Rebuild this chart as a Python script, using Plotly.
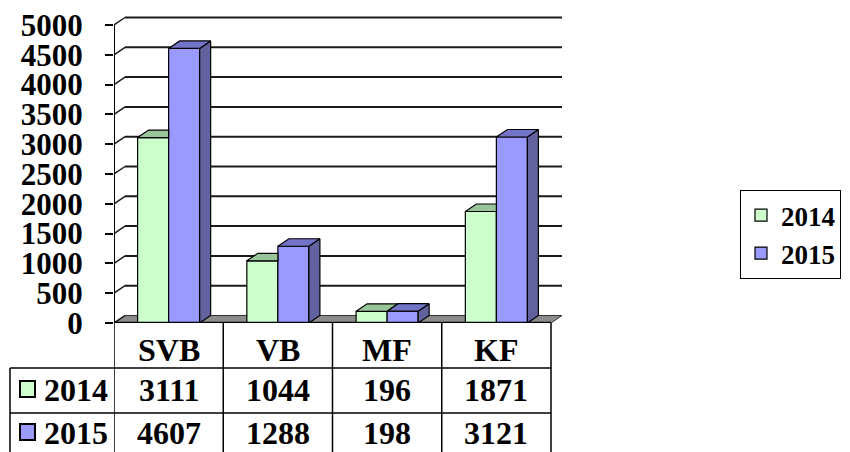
import plotly.graph_objects as go

# ---------------- data ----------------
categories = ["SVB", "VB", "MF", "KF"]
series_names = ["2014", "2015"]
values_2014 = [3111, 1044, 196, 1871]
values_2015 = [4607, 1288, 198, 3121]
y_tick_values = [0, 500, 1000, 1500, 2000, 2500, 3000, 3500, 4000, 4500, 5000]

# ---------------- styles ----------------
FONT = "Liberation Serif"
front_colors = ["#CCFFCC", "#9999FF"]
top_colors = ["#99C699", "#7373C7"]
side_colors = ["#62629E", "#62629E"]
floor_color = "#8C8C8C"

OFF = 8                      # page body margin
W, H = 850 - OFF, 452 - OFF
L, R, T, B = 114 - OFF, 284, 15 - OFF, 129
PW, PH = W - L - R, H - T - B
n = len(categories)
x_min, x_max = -0.5, -0.5 + PW / 109.25
y_max = PH / 298 * 5000
units_per_px_y = y_max / PH
dx = 11 / 109.25          # depth offset in category units
dy = 7.5 * units_per_px_y  # depth offset in value units
bar_w = (1 - 0.432) / 2


def xp(px):  # page pixel -> paper x
    return (px - OFF - L) / PW


def yp(py):  # page pixel -> paper y
    return (T + PH - (py - OFF)) / PH


fig = go.Figure()

series = [values_2014, values_2015]
for s, vals in enumerate(series):
    fig.add_trace(go.Bar(
        x=list(range(n)), y=vals, name=series_names[s],
        marker=dict(color=front_colors[s], line=dict(color="black", width=1.2)),
        hoverinfo="skip",
    ))

# 3D faces (tops and sides) computed from values
for s, vals in enumerate(series):
    tx, ty, sx, sy = [], [], [], []
    for i, v in enumerate(vals):
        x0 = i - bar_w + s * bar_w
        x1 = x0 + bar_w
        if s == 0 and series[1][i] >= v + dy:
            tx += [x0, x1, x1, x0 + dx, x0, None]
            ty += [v, v, v + dy, v + dy, v, None]
        else:
            tx += [x0, x1, x1 + dx, x0 + dx, x0, None]
            ty += [v, v, v + dy, v + dy, v, None]
        if s == 1:
            sx += [x1, x1, x1 + dx, x1 + dx, x1, None]
            sy += [0, v, v + dy, dy, 0, None]
    if sx:
        fig.add_trace(go.Scatter(x=sx, y=sy, mode="lines", fill="toself",
                                 fillcolor=side_colors[s],
                                 line=dict(color="black", width=1.2),
                                 showlegend=False, hoverinfo="skip"))
    fig.add_trace(go.Scatter(x=tx, y=ty, mode="lines", fill="toself",
                             fillcolor=top_colors[s],
                             line=dict(color="black", width=1.2),
                             showlegend=False, hoverinfo="skip"))

shapes = []
# floor
shapes.append(dict(type="path", xref="x", yref="y", layer="below",
                   path=f"M{x_min},0 L{n - 0.5},0 L{n - 0.5 + dx},{dy} L{x_min + dx},{dy} Z",
                   fillcolor=floor_color, line=dict(color="#333", width=1)))
# back wall gridlines and diagonal ticks
for v in y_tick_values:
    if v > 0:
        shapes.append(dict(type="line", xref="x", yref="y", layer="below",
                           x0=x_min + dx, x1=n - 0.5 + dx, y0=v + dy, y1=v + dy,
                           line=dict(color="#1a1a1a", width=2)))
    shapes.append(dict(type="line", xref="x", yref="y", layer="below",
                       x0=x_min, x1=x_min + dx, y0=v, y1=v + dy,
                       line=dict(color="#1a1a1a", width=1.5)))
# front value axis
shapes.append(dict(type="line", xref="x", yref="y", x0=x_min, x1=x_min, y0=0, y1=5000,
                   line=dict(color="black", width=2)))
# front category axis / table top
shapes.append(dict(type="line", xref="x", yref="y", x0=x_min, x1=n - 0.5, y0=0, y1=0,
                   line=dict(color="black", width=2.5)))

# data table grid
for k in range(n + 1):
    shapes.append(dict(type="line", xref="x", yref="paper", x0=k - 0.5, x1=k - 0.5,
                       y0=yp(323), y1=yp(460), line=dict(color="black", width=1.5)))
shapes.append(dict(type="line", xref="paper", yref="paper", x0=xp(10), x1=xp(10),
                   y0=yp(368), y1=yp(460), line=dict(color="black", width=1.5)))
for row_y in [368, 413]:
    shapes.append(dict(type="line", xref="paper", yref="paper", x0=xp(10), x1=xp(551),
                       y0=yp(row_y), y1=yp(row_y), line=dict(color="black", width=1.5)))

annotations = []
big = dict(family=FONT, size=32, color="black", weight="bold")
for i, c in enumerate(categories):
    annotations.append(dict(x=i, y=yp(350), xref="x", yref="paper", text=c,
                            showarrow=False, font=big, xanchor="center", yanchor="middle"))
row_centers = [390, 433]
for s, vals in enumerate(series):
    for i, v in enumerate(vals):
        annotations.append(dict(x=i, y=yp(row_centers[s]), xref="x", yref="paper", text=str(v),
                                showarrow=False, font=big, xanchor="center", yanchor="middle"))
    shapes.append(dict(type="rect", xref="paper", yref="paper",
                       x0=xp(20), x1=xp(35), y0=yp(row_centers[s] - 9), y1=yp(row_centers[s] + 7),
                       fillcolor=front_colors[s], line=dict(color="black", width=2)))
    annotations.append(dict(x=xp(42), y=yp(row_centers[s]), xref="paper", yref="paper",
                            text=series_names[s], showarrow=False, font=big,
                            xanchor="left", yanchor="middle"))

fig.update_layout(
    width=W, height=H,
    margin=dict(l=L, r=R, t=T, b=B, autoexpand=False),
    paper_bgcolor="white", plot_bgcolor="white",
    barmode="group", bargap=0.432, bargroupgap=0,
    shapes=shapes, annotations=annotations,
    showlegend=True,
    legend=dict(x=xp(740), y=yp(190), xref="paper", yref="paper",
                xanchor="left", yanchor="top",
                bordercolor="black", borderwidth=1, bgcolor="white",
                font=dict(family=FONT, size=27, color="black", weight="bold"),
                itemclick=False, itemdoubleclick=False),
    xaxis=dict(range=[x_min, x_max], showticklabels=False, showgrid=False,
               zeroline=False, showline=False, ticks="", fixedrange=True),
    yaxis=dict(range=[0, y_max], tickvals=y_tick_values, showgrid=False,
               zeroline=False, showline=False, ticks="outside", ticklen=8,
               tickwidth=1.5, tickcolor="black", ticklabelstandoff=16,
               ticklabeloverflow="allow",
               tickfont=dict(family=FONT, size=31, color="black", weight="bold"),
               fixedrange=True),
)

fig.write_html("out.html")
